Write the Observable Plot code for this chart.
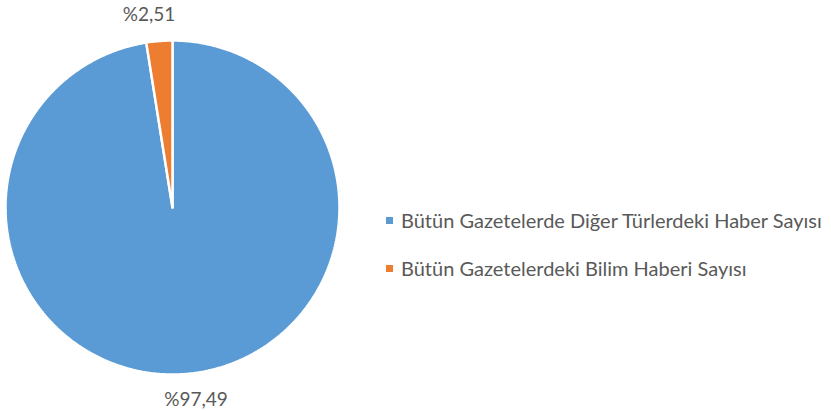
<!DOCTYPE html>
<html>
<head>
<meta charset="utf-8">
<script src="https://cdn.jsdelivr.net/npm/d3@7"></script>
<script src="https://cdn.jsdelivr.net/npm/@observablehq/plot@0.6"></script>
<style>
  html, body { margin: 0; padding: 0; background: #fff; }
  #wrap { position: relative; width: 831px; height: 411px; overflow: hidden; font-family: Lato, "Open Sans", sans-serif; }
  #legend { position: absolute; left: 384px; top: 208px; color: #595959; font-size: 20px; }
  .item { display: flex; align-items: center; height: 24px; margin-bottom: 24px; white-space: nowrap; }
  .sw { width: 7px; height: 7px; margin-right: 8px; margin-left: 2px; }
</style>
</head>
<body>
<div id="wrap"></div>
<script>
const categories = ["Bütün Gazetelerde Diğer Türlerdeki Haber Sayısı", "Bütün Gazetelerdeki Bilim Haberi Sayısı"];
const values = [97.49, 2.51];
const labels = ["%97,49", "%2,51"];
const colors = ["#5B9BD5", "#ED7D31"];

const pie = d3.pie().sort(null).value(d => d.value);
const arcs = pie(categories.map((c, i) => ({category: c, value: values[i], label: labels[i]})));

// Build polygon outlines of each slice in unit coordinates (angle 0 = 12 o'clock, clockwise)
const pts = [];
for (const a of arcs) {
  const n = Math.max(4, Math.ceil((a.endAngle - a.startAngle) / 0.01));
  pts.push({category: a.data.category, x: 0, y: 0});
  for (let k = 0; k <= n; k++) {
    const t = a.startAngle + (a.endAngle - a.startAngle) * k / n;
    pts.push({category: a.data.category, x: Math.sin(t), y: Math.cos(t)});
  }
  pts.push({category: a.data.category, x: 0, y: 0});
}
// labels placed outside the slices, nudged horizontally away from the vertical axis (best-fit style)
const labelPts = arcs.map(a => {
  const m = (a.startAngle + a.endAngle) / 2;
  const s = Math.sin(m);
  return {label: a.data.label, x: s * 1.15 + Math.sign(s) * 0.05, y: Math.cos(m) * 1.155};
});

const W = 831, H = 411;
const cx = 172, cy = 207, r = 167;
const chart = Plot.plot({
  width: W,
  height: H,
  marginLeft: cx - r,
  marginRight: W - (cx + r),
  marginTop: cy - r,
  marginBottom: H - (cy + r),
  x: {domain: [-1, 1], axis: null},
  y: {domain: [-1, 1], axis: null},
  color: {domain: categories, range: colors},
  style: {fontFamily: "Lato, 'Open Sans', sans-serif", background: "#fff", overflow: "visible"},
  marks: [
    Plot.line(pts, {x: "x", y: "y", z: "category", fill: "category", stroke: "white", strokeWidth: 2.5, strokeLinejoin: "miter", curve: "linear"}),
    Plot.text(labelPts, {x: "x", y: "y", text: "label", fill: "#595959", fontSize: 19})
  ]
});
document.getElementById("wrap").appendChild(chart);

const legend = document.createElement("div");
legend.id = "legend";
categories.forEach((c, i) => {
  const item = document.createElement("div");
  item.className = "item";
  const sw = document.createElement("span");
  sw.className = "sw";
  sw.style.background = colors[i];
  const tx = document.createElement("span");
  tx.textContent = c;
  item.appendChild(sw);
  item.appendChild(tx);
  legend.appendChild(item);
});
document.getElementById("wrap").appendChild(legend);
</script>
</body>
</html>
